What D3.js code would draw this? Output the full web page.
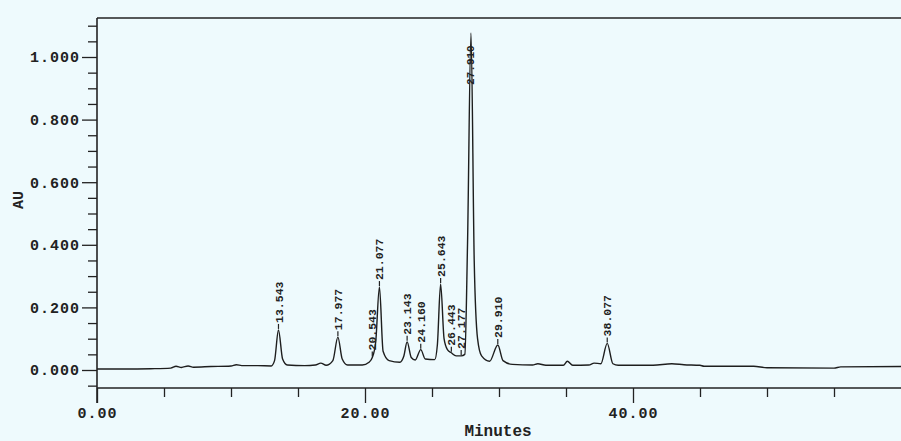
<!DOCTYPE html>
<html>
<head>
<meta charset="utf-8">
<script src="https://cdn.jsdelivr.net/npm/d3@7"></script>
<style>
	body { margin: 0; background: #eefafd; }
	svg { display: block; }
	text { font-family: "Liberation Mono", "DejaVu Sans Mono", monospace; fill: #222; }
</style>
</head>
<body>
<svg width="901" height="441"></svg>
<script>
// trace: [minutes, AU]
var trace = [
	[0, 0.003], [2, 0.003], [4, 0.004], [5.5, 0.006], [5.9, 0.012], [6.3, 0.008],
	[6.8, 0.013], [7.2, 0.009], [8.5, 0.011], [10, 0.013], [10.4, 0.017], [10.8, 0.014],
	[12, 0.014], [13.0, 0.013], [13.25, 0.03], [13.543, 0.128], [13.85, 0.035], [14.2, 0.016],
	[15.5, 0.014], [16.3, 0.016], [16.7, 0.022], [17.1, 0.015], [17.6, 0.03], [17.977, 0.105],
	[18.3, 0.035], [18.7, 0.016], [19.8, 0.016], [20.3, 0.025], [20.543, 0.04], [20.8, 0.09],
	[21.077, 0.265], [21.35, 0.06], [21.8, 0.03], [22.6, 0.025], [22.9, 0.045], [23.143, 0.09],
	[23.45, 0.04], [23.75, 0.032], [24.16, 0.065], [24.5, 0.035], [25.2, 0.033], [25.4, 0.08],
	[25.643, 0.275], [25.9, 0.1], [26.15, 0.065], [26.443, 0.055], [26.8, 0.045], [27.177, 0.045],
	[27.45, 0.05], [27.65, 0.4], [27.91, 1.077], [28.15, 0.35], [28.4, 0.1], [28.7, 0.045],
	[29.3, 0.028], [29.91, 0.08], [30.3, 0.03], [31, 0.018], [32.5, 0.016], [32.9, 0.02],
	[33.5, 0.015], [34.8, 0.015], [35.1, 0.028], [35.5, 0.015], [36.7, 0.016], [37.1, 0.022],
	[37.6, 0.02], [38.077, 0.085], [38.5, 0.02], [38.9, 0.015], [41.5, 0.015], [42.9, 0.02],
	[43.8, 0.017], [45, 0.015], [45.3, 0.012], [49, 0.012], [50, 0.007], [55, 0.006],
	[55.5, 0.01], [60, 0.011]
];

var peakTimes = [13.543, 17.977, 20.543, 21.077, 23.143, 24.16, 25.643, 26.443, 27.177, 27.91, 29.91, 38.077];
var peakLabels = ["13.543", "17.977", "20.543", "21.077", "23.143", "24.160", "25.643", "26.443", "27.177", "27.910", "29.910", "38.077"];

var yMajor = [0, 0.2, 0.4, 0.6, 0.8, 1.0];
var yMinor = [-0.05, 0.05, 0.1, 0.15, 0.25, 0.3, 0.35, 0.45, 0.5, 0.55, 0.65, 0.7, 0.75, 0.85, 0.9, 0.95, 1.05, 1.1];
var xMajor = [0, 20, 40];
var xMinor = [5, 10, 15, 25, 30, 35, 45, 50, 55];

var svg = d3.select("svg");

var plotLeft = 97, plotRight = 901, plotTop = 18, axisY = 388;

var x = d3.scaleLinear().domain([0, 60]).range([plotLeft, plotRight]);
var y = d3.scaleLinear().domain([0, 1]).range([370, 57]);

// frame top line
svg.append("line")
	.attr("x1", plotLeft).attr("x2", plotRight)
	.attr("y1", plotTop).attr("y2", plotTop)
	.attr("stroke", "#222").attr("stroke-width", 1.5);

// y axis
var yAxis = svg.append("g").attr("transform", "translate(" + plotLeft + ",0)");
yAxis.append("g")
	.call(d3.axisLeft(y).tickValues(yMinor).tickSize(9).tickFormat(""))
	.call(function (g) { g.select(".domain").remove(); });
yAxis.append("g")
	.call(d3.axisLeft(y).tickValues(yMajor).tickSize(15).tickPadding(2).tickFormat(d3.format(".3f")))
	.call(function (g) { g.select(".domain").remove(); });
yAxis.selectAll("line").attr("stroke", "#222").attr("stroke-width", 1.3);
yAxis.selectAll("text")
	.style("font-size", "15px")
	.style("font-weight", "bold")
	.style("letter-spacing", "1px")
	.style("fill", "#222");
yAxis.append("line")
	.attr("x1", 0).attr("x2", 0)
	.attr("y1", plotTop).attr("y2", axisY + 15)
	.attr("stroke", "#222").attr("stroke-width", 1.6);

// x axis
var xAxis = svg.append("g").attr("transform", "translate(0," + axisY + ")");
xAxis.append("g")
	.call(d3.axisBottom(x).tickValues(xMinor).tickSize(9).tickFormat(""))
	.call(function (g) { g.select(".domain").remove(); });
xAxis.append("g")
	.call(d3.axisBottom(x).tickValues(xMajor).tickSize(15).tickPadding(4).tickFormat(d3.format(".2f")))
	.call(function (g) { g.select(".domain").remove(); });
xAxis.selectAll("line").attr("stroke", "#222").attr("stroke-width", 1.3);
xAxis.selectAll("text")
	.style("font-size", "15px")
	.style("font-weight", "bold")
	.style("letter-spacing", "1px")
	.style("fill", "#222");
xAxis.append("line")
	.attr("x1", plotLeft).attr("x2", plotRight)
	.attr("y1", 0).attr("y2", 0)
	.attr("stroke", "#222").attr("stroke-width", 1.6);

// axis titles
svg.append("text")
	.attr("x", 498).attr("y", 436)
	.attr("text-anchor", "middle")
	.style("font-size", "16px")
	.style("font-weight", "bold")
	.text("Minutes");

svg.append("text")
	.attr("transform", "translate(23,200) rotate(-90)")
	.attr("text-anchor", "middle")
	.style("font-size", "15px")
	.style("font-weight", "bold")
	.text("AU");

// trace
var line = d3.line()
	.x(function (d) { return x(d[0]); })
	.y(function (d) { return y(d[1]); })
	.curve(d3.curveMonotoneX);

svg.append("path")
	.datum(trace)
	.attr("d", line)
	.attr("fill", "none")
	.attr("stroke", "#1e1e1e")
	.attr("stroke-width", 1.4);

// peak labels
peakTimes.forEach(function (t, i) {
	var apex = trace.filter(function (d) { return d[0] === t; })[0][1];
	var px = x(t), py = y(apex);
	var inside = py - 50 < plotTop;

	if (inside) {
		// no room above the tallest peak: the label sits on the peak itself
		svg.append("text")
			.attr("transform", "translate(" + (px - 1) + "," + (py + 52) + ") rotate(-90)")
			.attr("dy", "0.35em")
			.style("font-size", "11px")
			.style("font-weight", "bold")
			.text(peakLabels[i]);
	} else {
		svg.append("line")
			.attr("x1", px).attr("x2", px)
			.attr("y1", py - 1).attr("y2", py - 6)
			.attr("stroke", "#222").attr("stroke-width", 1.2);
		svg.append("text")
			.attr("transform", "translate(" + px + "," + (py - 7) + ") rotate(-90)")
			.attr("dy", "0.35em")
			.style("font-size", "11.5px")
			.style("font-weight", "bold")
			.text(peakLabels[i]);
	}
});
</script>
</body>
</html>
